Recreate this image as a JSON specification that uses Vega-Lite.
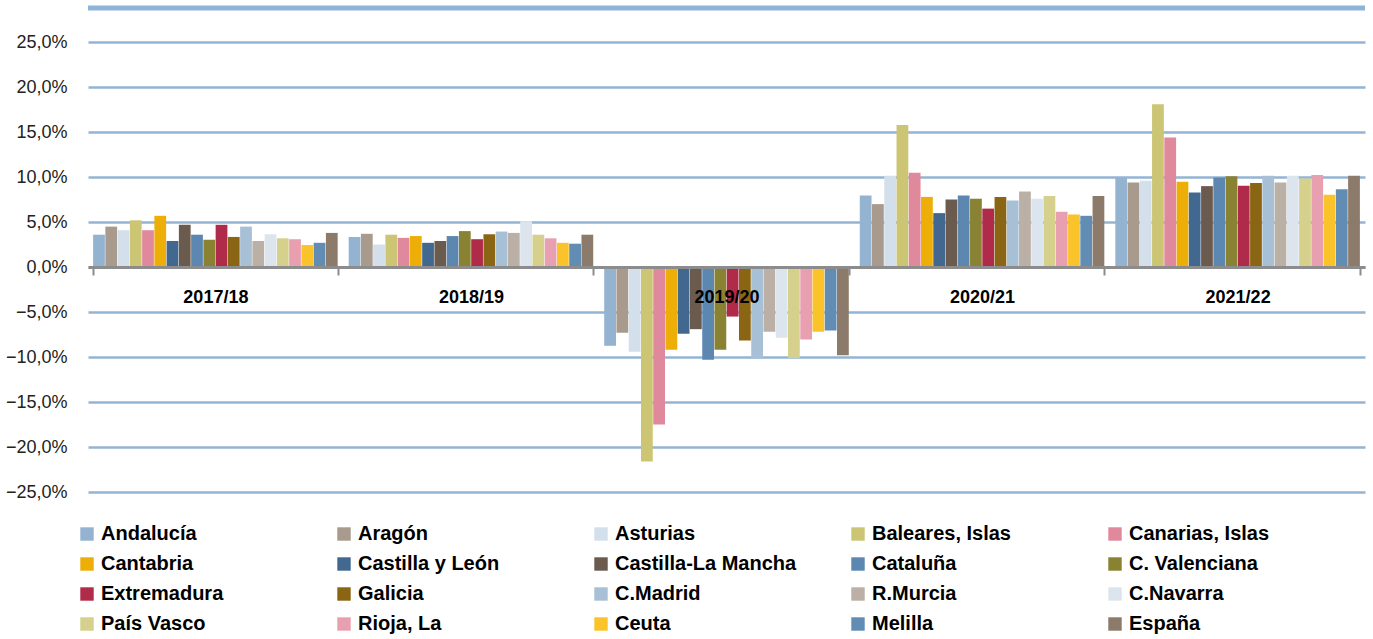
{
  "$schema": "https://vega.github.io/schema/vega-lite/v6.json",
  "autosize": {"type": "none"},
  "width": 1277,
  "height": 484,
  "padding": {"left": 88, "top": 8, "right": 8, "bottom": 147},
  "background": "#ffffff",
  "config": {
    "view": {"stroke": null},
    "font": "Liberation Sans"
  },
  "layer": [
    {
      "data": {
        "values": [
          {"g": "2017/18", "r": "Andalucía", "v": 3.6},
          {"g": "2017/18", "r": "Aragón", "v": 4.5},
          {"g": "2017/18", "r": "Asturias", "v": 4.1},
          {"g": "2017/18", "r": "Baleares, Islas", "v": 5.2},
          {"g": "2017/18", "r": "Canarias, Islas", "v": 4.1},
          {"g": "2017/18", "r": "Cantabria", "v": 5.7},
          {"g": "2017/18", "r": "Castilla y León", "v": 2.9},
          {"g": "2017/18", "r": "Castilla-La Mancha", "v": 4.7},
          {"g": "2017/18", "r": "Cataluña", "v": 3.6},
          {"g": "2017/18", "r": "C. Valenciana", "v": 3.05},
          {"g": "2017/18", "r": "Extremadura", "v": 4.7},
          {"g": "2017/18", "r": "Galicia", "v": 3.35},
          {"g": "2017/18", "r": "C.Madrid", "v": 4.5},
          {"g": "2017/18", "r": "R.Murcia", "v": 2.9},
          {"g": "2017/18", "r": "C.Navarra", "v": 3.65},
          {"g": "2017/18", "r": "País Vasco", "v": 3.2},
          {"g": "2017/18", "r": "Rioja, La", "v": 3.1},
          {"g": "2017/18", "r": "Ceuta", "v": 2.45},
          {"g": "2017/18", "r": "Melilla", "v": 2.7},
          {"g": "2017/18", "r": "España", "v": 3.8},
          {"g": "2018/19", "r": "Andalucía", "v": 3.35},
          {"g": "2018/19", "r": "Aragón", "v": 3.7},
          {"g": "2018/19", "r": "Asturias", "v": 2.5},
          {"g": "2018/19", "r": "Baleares, Islas", "v": 3.6},
          {"g": "2018/19", "r": "Canarias, Islas", "v": 3.25},
          {"g": "2018/19", "r": "Cantabria", "v": 3.45},
          {"g": "2018/19", "r": "Castilla y León", "v": 2.7},
          {"g": "2018/19", "r": "Castilla-La Mancha", "v": 2.9},
          {"g": "2018/19", "r": "Cataluña", "v": 3.45},
          {"g": "2018/19", "r": "C. Valenciana", "v": 4.0},
          {"g": "2018/19", "r": "Extremadura", "v": 3.1},
          {"g": "2018/19", "r": "Galicia", "v": 3.65},
          {"g": "2018/19", "r": "C.Madrid", "v": 3.95},
          {"g": "2018/19", "r": "R.Murcia", "v": 3.8},
          {"g": "2018/19", "r": "C.Navarra", "v": 5.1},
          {"g": "2018/19", "r": "País Vasco", "v": 3.6},
          {"g": "2018/19", "r": "Rioja, La", "v": 3.2},
          {"g": "2018/19", "r": "Ceuta", "v": 2.7},
          {"g": "2018/19", "r": "Melilla", "v": 2.6},
          {"g": "2018/19", "r": "España", "v": 3.6},
          {"g": "2019/20", "r": "Andalucía", "v": -8.75},
          {"g": "2019/20", "r": "Aragón", "v": -7.3},
          {"g": "2019/20", "r": "Asturias", "v": -9.4},
          {"g": "2019/20", "r": "Baleares, Islas", "v": -21.6},
          {"g": "2019/20", "r": "Canarias, Islas", "v": -17.5},
          {"g": "2019/20", "r": "Cantabria", "v": -9.2},
          {"g": "2019/20", "r": "Castilla y León", "v": -7.4},
          {"g": "2019/20", "r": "Castilla-La Mancha", "v": -6.9},
          {"g": "2019/20", "r": "Cataluña", "v": -10.3},
          {"g": "2019/20", "r": "C. Valenciana", "v": -9.2},
          {"g": "2019/20", "r": "Extremadura", "v": -5.5},
          {"g": "2019/20", "r": "Galicia", "v": -8.15},
          {"g": "2019/20", "r": "C.Madrid", "v": -10.15},
          {"g": "2019/20", "r": "R.Murcia", "v": -7.2},
          {"g": "2019/20", "r": "C.Navarra", "v": -7.85},
          {"g": "2019/20", "r": "País Vasco", "v": -10.1},
          {"g": "2019/20", "r": "Rioja, La", "v": -8.05},
          {"g": "2019/20", "r": "Ceuta", "v": -7.2},
          {"g": "2019/20", "r": "Melilla", "v": -7.05},
          {"g": "2019/20", "r": "España", "v": -9.8},
          {"g": "2020/21", "r": "Andalucía", "v": 7.95},
          {"g": "2020/21", "r": "Aragón", "v": 7.0},
          {"g": "2020/21", "r": "Asturias", "v": 10.15},
          {"g": "2020/21", "r": "Baleares, Islas", "v": 15.8},
          {"g": "2020/21", "r": "Canarias, Islas", "v": 10.5},
          {"g": "2020/21", "r": "Cantabria", "v": 7.8},
          {"g": "2020/21", "r": "Castilla y León", "v": 6.0},
          {"g": "2020/21", "r": "Castilla-La Mancha", "v": 7.5},
          {"g": "2020/21", "r": "Cataluña", "v": 7.95},
          {"g": "2020/21", "r": "C. Valenciana", "v": 7.6},
          {"g": "2020/21", "r": "Extremadura", "v": 6.5},
          {"g": "2020/21", "r": "Galicia", "v": 7.8},
          {"g": "2020/21", "r": "C.Madrid", "v": 7.4},
          {"g": "2020/21", "r": "R.Murcia", "v": 8.4},
          {"g": "2020/21", "r": "C.Navarra", "v": 7.6},
          {"g": "2020/21", "r": "País Vasco", "v": 7.9},
          {"g": "2020/21", "r": "Rioja, La", "v": 6.15},
          {"g": "2020/21", "r": "Ceuta", "v": 5.85},
          {"g": "2020/21", "r": "Melilla", "v": 5.7},
          {"g": "2020/21", "r": "España", "v": 7.9},
          {"g": "2021/22", "r": "Andalucía", "v": 9.95},
          {"g": "2021/22", "r": "Aragón", "v": 9.4},
          {"g": "2021/22", "r": "Asturias", "v": 9.6},
          {"g": "2021/22", "r": "Baleares, Islas", "v": 18.1},
          {"g": "2021/22", "r": "Canarias, Islas", "v": 14.4},
          {"g": "2021/22", "r": "Cantabria", "v": 9.5},
          {"g": "2021/22", "r": "Castilla y León", "v": 8.3},
          {"g": "2021/22", "r": "Castilla-La Mancha", "v": 9.0},
          {"g": "2021/22", "r": "Cataluña", "v": 9.95},
          {"g": "2021/22", "r": "C. Valenciana", "v": 10.1},
          {"g": "2021/22", "r": "Extremadura", "v": 9.05},
          {"g": "2021/22", "r": "Galicia", "v": 9.35},
          {"g": "2021/22", "r": "C.Madrid", "v": 10.15},
          {"g": "2021/22", "r": "R.Murcia", "v": 9.4},
          {"g": "2021/22", "r": "C.Navarra", "v": 10.15},
          {"g": "2021/22", "r": "País Vasco", "v": 9.85},
          {"g": "2021/22", "r": "Rioja, La", "v": 10.25},
          {"g": "2021/22", "r": "Ceuta", "v": 8.05},
          {"g": "2021/22", "r": "Melilla", "v": 8.65},
          {"g": "2021/22", "r": "España", "v": 10.15}
        ]
      },
      "mark": {"type": "bar"},
      "encoding": {
        "x": {
          "field": "g",
          "type": "nominal",
          "sort": null,
          "scale": {"paddingInner": 0.043, "paddingOuter": 0.02},
          "axis": {
            "title": null,
            "orient": "bottom",
            "offset": -225,
            "zindex": 1,
            "labelAngle": 0,
            "labelFont": "Liberation Sans",
            "labelFontWeight": "bold",
            "labelFontSize": 18,
            "labelColor": "#000000",
            "labelPadding": 13,
            "domain": true,
            "domainColor": "#8c8c8c",
            "domainWidth": 3,
            "ticks": true,
            "tickBand": "extent",
            "tickSize": 8,
            "tickColor": "#8c8c8c",
            "tickWidth": 2,
            "grid": false
          }
        },
        "xOffset": {
          "field": "r",
          "type": "nominal",
          "sort": null,
          "scale": {"paddingInner": 0.04, "paddingOuter": 0}
        },
        "y": {
          "field": "v",
          "type": "quantitative",
          "scale": {"domain": [-25, 28.8], "nice": false, "zero": false},
          "axis": {
            "title": null,
            "values": [-25, -20, -15, -10, -5, 0, 5, 10, 15, 20, 25],
            "labelExpr": "replace(format(datum.value, '.1f'), '.', ',') + '%'",
            "labelFont": "Liberation Sans",
            "labelFontSize": 18,
            "labelColor": "#222222",
            "labelPadding": 21,
            "domain": false,
            "ticks": false,
            "grid": true,
            "gridColor": "#93b4d3",
            "gridWidth": 2.5,
            "gridOpacity": 1
          }
        },
        "color": {
          "field": "r",
          "type": "nominal",
          "sort": null,
          "scale": {
            "domain": ["Andalucía", "Aragón", "Asturias", "Baleares, Islas", "Canarias, Islas", "Cantabria", "Castilla y León", "Castilla-La Mancha", "Cataluña", "C. Valenciana", "Extremadura", "Galicia", "C.Madrid", "R.Murcia", "C.Navarra", "País Vasco", "Rioja, La", "Ceuta", "Melilla", "España"],
            "range": ["#93b3d1", "#a89a8c", "#d3dfeb", "#cbc574", "#e0889c", "#eeae08", "#426890", "#6b5b4f", "#5b87b0", "#888232", "#b02a4a", "#8a6514", "#a8c0d6", "#bab0a6", "#dce4ed", "#d5d08c", "#e8a0b0", "#fbc32a", "#618db5", "#8c7b6b"]
          },
          "legend": {
            "title": null,
            "orient": "none",
            "legendX": -11,
            "legendY": 516,
            "direction": "horizontal",
            "columns": 5,
            "gridAlign": "all",
            "columnPadding": 51,
            "rowPadding": 10,
            "symbolType": "square",
            "symbolSize": 180,
            "symbolStrokeWidth": 0,
            "labelFont": "Liberation Sans",
            "labelFontWeight": "bold",
            "labelFontSize": 20,
            "labelColor": "#000000",
            "labelOffset": 4,
            "labelLimit": 400
          }
        }
      }
    },
    {
      "data": {"values": [{}]},
      "mark": {"type": "rule", "color": "#8db4d6", "strokeWidth": 5},
      "encoding": {"y": {"datum": 28.8}}
    }
  ]
}
